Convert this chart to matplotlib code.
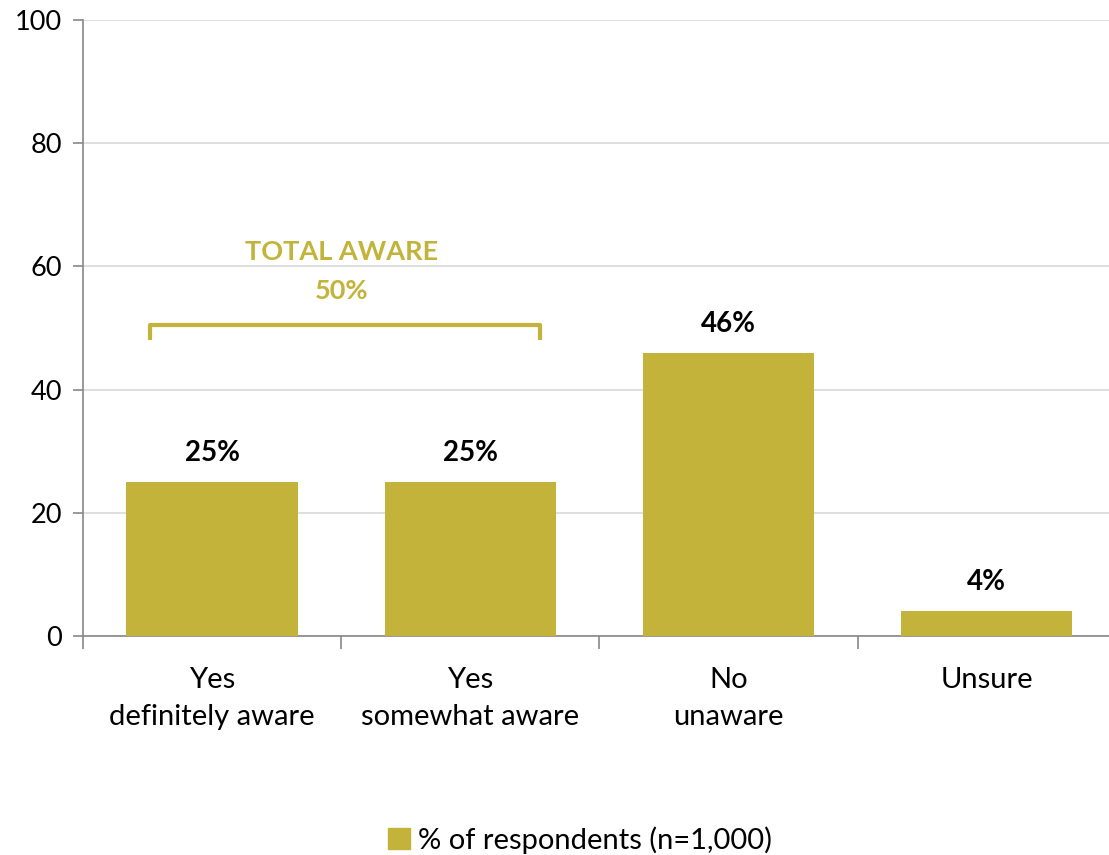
import matplotlib.pyplot as plt
from matplotlib.patches import Patch

categories = ["Yes\ndefinitely aware", "Yes\nsomewhat aware", "No\nunaware", "Unsure"]
values = [25, 25, 46, 4]
aware_total = 50
series_name = "% of respondents (n=1,000)"

bar_color = "#C3B33A"
plt.rcParams['font.family'] = ['Lato', 'DejaVu Sans']

fig = plt.figure(figsize=(11.09, 8.55), dpi=100)
ax = fig.add_axes([0.0748, 0.2561, 0.9315, 0.7205])

x = range(len(categories))
ax.bar(x, values, width=0.663, color=bar_color, zorder=3)

for xi, v in zip(x, values):
    ax.text(xi, v + 2.6, f"{v}%", ha='center', va='bottom',
            fontsize=20, fontweight='bold', color='black')

# bracket over the two "aware" bars
bx0, bx1, by = -0.24, 1.27, 50.5
ax.plot([bx0, bx0, bx1, bx1], [by - 2.5, by, by, by - 2.5],
        color=bar_color, lw=3, solid_joinstyle='round',
        solid_capstyle='butt', zorder=4)
ax.text(0.5, 62.3, "TOTAL AWARE", ha='center', va='center',
        fontsize=19.5, fontweight='bold', color=bar_color)
ax.text(0.5, 56.0, f"{aware_total}%", ha='center', va='center',
        fontsize=19.5, fontweight='bold', color=bar_color)

ax.set_xlim(-0.5, len(categories) - 0.5)
ax.set_ylim(0, 100)
ax.set_yticks(range(0, 101, 20))
ax.yaxis.grid(True, color='#D9D9D9', lw=1.2, zorder=0)
ax.set_axisbelow(True)

ax.set_xticks(list(x))
ax.set_xticklabels(categories, fontsize=21, linespacing=1.52)
ax.set_xticks([i + 0.5 for i in range(-1, len(categories))], minor=True)
ax.tick_params(axis='x', which='major', length=0, pad=22)
ax.tick_params(axis='x', which='minor', length=9, color='#888888', width=1.2)
ax.tick_params(axis='y', length=7, color='#888888', width=1.2,
               labelsize=19.5, pad=8)

for side in ['top', 'right']:
    ax.spines[side].set_visible(False)
for side in ['left', 'bottom']:
    ax.spines[side].set_color('#888888')
    ax.spines[side].set_linewidth(1.2)

fig.legend(handles=[Patch(color=bar_color, label=series_name)],
           loc='lower center', bbox_to_anchor=(0.523, -0.029), frameon=False,
           fontsize=21, handlelength=0.75, handleheight=0.75, handletextpad=0.3)

fig.savefig("out.png", dpi=100)
